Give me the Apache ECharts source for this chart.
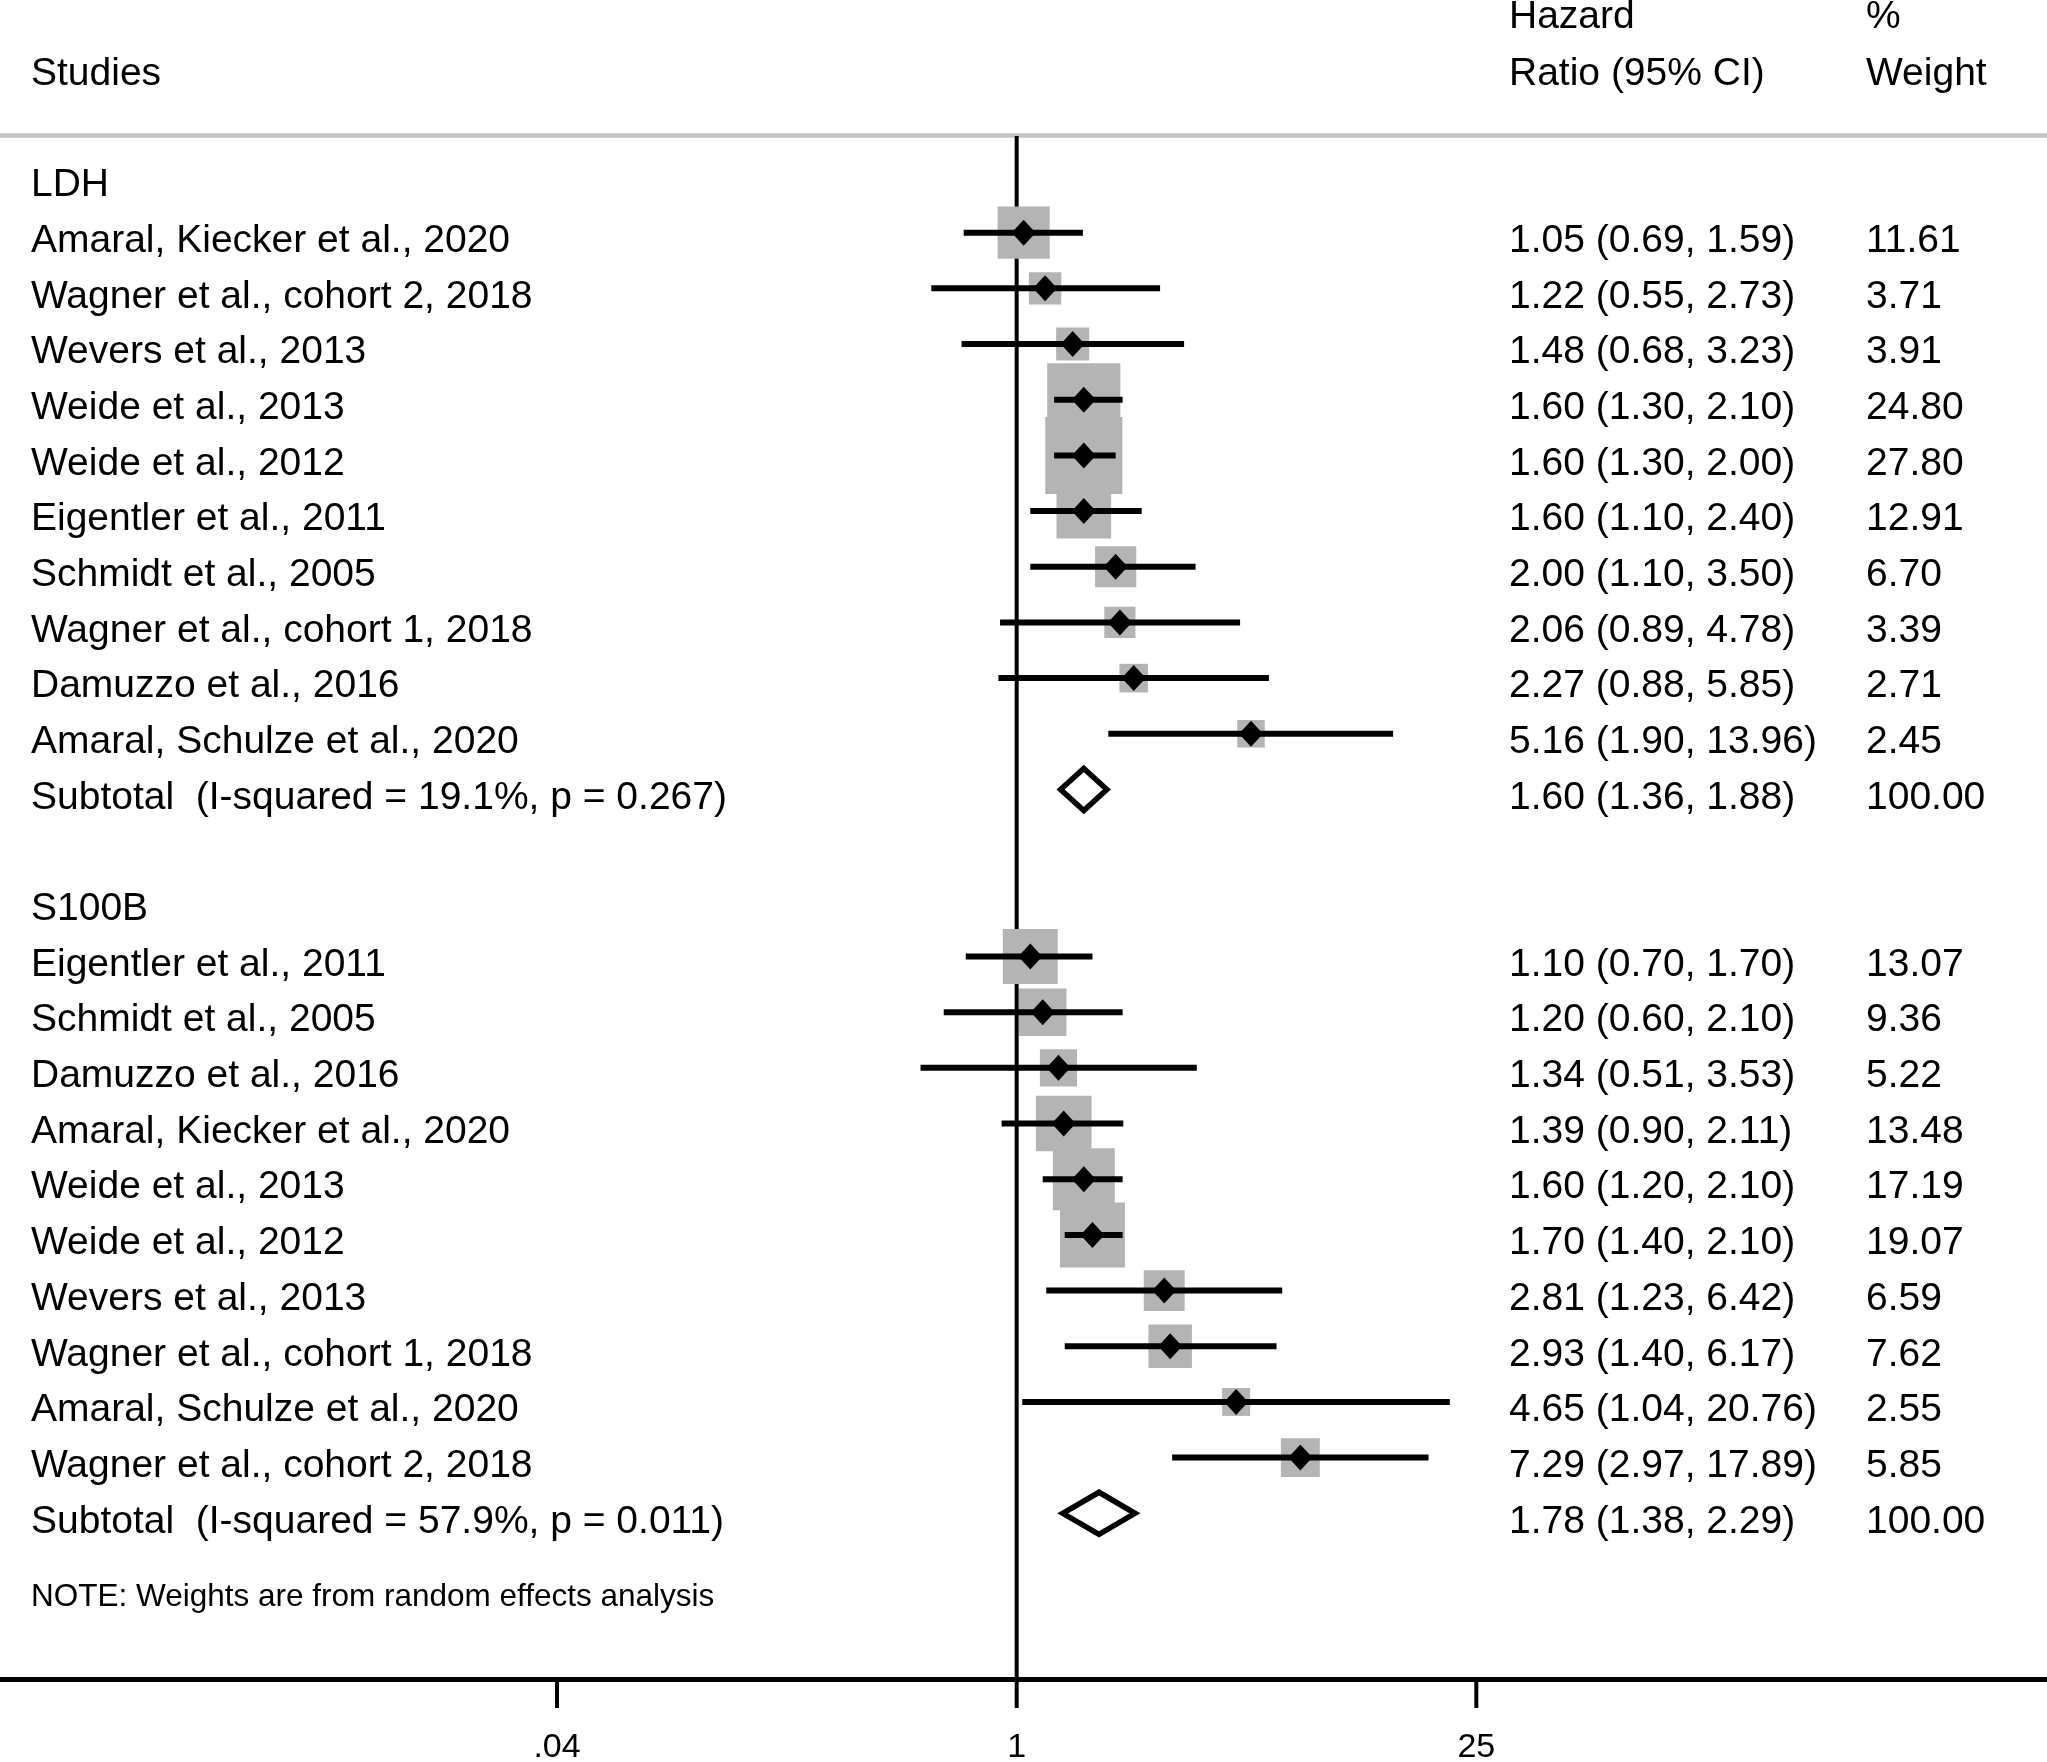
<!DOCTYPE html>
<html>
<head>
<meta charset="utf-8">
<title>Forest plot - LDH and S100B</title>
<script src="https://cdn.jsdelivr.net/npm/echarts@6/dist/echarts.min.js"></script>
<style>
  html, body { margin: 0; padding: 0; background: #fff; }
  #chart { width: 2047px; height: 1762px; }
</style>
</head>
<body>
<div id="chart"></div>
<script>
// ---------------------------------------------------------------
// data
// ---------------------------------------------------------------
const groupNames = ['LDH', 'S100B'];

const ldhStudies = [
    'Amaral, Kiecker et al., 2020',
    'Wagner et al., cohort 2, 2018',
    'Wevers et al., 2013',
    'Weide et al., 2013',
    'Weide et al., 2012',
    'Eigentler et al., 2011',
    'Schmidt et al., 2005',
    'Wagner et al., cohort 1, 2018',
    'Damuzzo et al., 2016',
    'Amaral, Schulze et al., 2020'
];
const ldhHR     = [1.05, 1.22, 1.48, 1.60, 1.60, 1.60, 2.00, 2.06, 2.27, 5.16];
const ldhLower  = [0.69, 0.55, 0.68, 1.30, 1.30, 1.10, 1.10, 0.89, 0.88, 1.90];
const ldhUpper  = [1.59, 2.73, 3.23, 2.10, 2.00, 2.40, 3.50, 4.78, 5.85, 13.96];
const ldhWeight = [11.61, 3.71, 3.91, 24.80, 27.80, 12.91, 6.70, 3.39, 2.71, 2.45];

const s100bStudies = [
    'Eigentler et al., 2011',
    'Schmidt et al., 2005',
    'Damuzzo et al., 2016',
    'Amaral, Kiecker et al., 2020',
    'Weide et al., 2013',
    'Weide et al., 2012',
    'Wevers et al., 2013',
    'Wagner et al., cohort 1, 2018',
    'Amaral, Schulze et al., 2020',
    'Wagner et al., cohort 2, 2018'
];
const s100bHR     = [1.10, 1.20, 1.34, 1.39, 1.60, 1.70, 2.81, 2.93, 4.65, 7.29];
const s100bLower  = [0.70, 0.60, 0.51, 0.90, 1.20, 1.40, 1.23, 1.40, 1.04, 2.97];
const s100bUpper  = [1.70, 2.10, 3.53, 2.11, 2.10, 2.10, 6.42, 6.17, 20.76, 17.89];
const s100bWeight = [13.07, 9.36, 5.22, 13.48, 17.19, 19.07, 6.59, 7.62, 2.55, 5.85];

const subtotalLabels = [
    'Subtotal  (I-squared = 19.1%, p = 0.267)',
    'Subtotal  (I-squared = 57.9%, p = 0.011)'
];
const subtotalHR     = [1.60, 1.78];
const subtotalLower  = [1.36, 1.38];
const subtotalUpper  = [1.88, 2.29];
const subtotalWeight = [100.00, 100.00];

const xTickValues = [0.04, 1, 25];
const xTickLabels = ['.04', '1', '25'];
const nullValue = 1;

const noteText = 'NOTE: Weights are from random effects analysis';

// ---------------------------------------------------------------
// layout
// ---------------------------------------------------------------
const FONT = '"Liberation Sans", Arial, Helvetica, sans-serif';
const BIG = '39px ' + FONT;
const TICK = '34px ' + FONT;
const SMALL = '31.5px ' + FONT;
const colX = { study: 31, hr: 1509, weight: 1866 };
const X_MIN = 0.000809, X_MAX = 1360;
const Y_MIN = -0.7364, Y_MAX = 26.976;
const ROWS_PER_GROUP = 13;

// rows: group header, 10 studies, subtotal, blank
const groups = [
    { studies: ldhStudies, hr: ldhHR, lo: ldhLower, hi: ldhUpper, w: ldhWeight },
    { studies: s100bStudies, hr: s100bHR, lo: s100bLower, hi: s100bUpper, w: s100bWeight }
];

const textRows = [];
const studyPoints = [];
const ciLines = [];
const subtotals = [];

groups.forEach(function (g, gi) {
    const base = gi * ROWS_PER_GROUP;
    textRows.push({ row: base, label: groupNames[gi], hr: '', w: '' });
    g.studies.forEach(function (name, k) {
        const row = base + 1 + k;
        textRows.push({
            row: row,
            label: name,
            hr: g.hr[k].toFixed(2) + ' (' + g.lo[k].toFixed(2) + ', ' + g.hi[k].toFixed(2) + ')',
            w: g.w[k].toFixed(2)
        });
        studyPoints.push([g.hr[k], row, g.w[k]]);
        ciLines.push([g.lo[k], g.hi[k], row]);
    });
    const srow = base + 1 + g.studies.length;
    textRows.push({
        row: srow,
        label: subtotalLabels[gi],
        hr: subtotalHR[gi].toFixed(2) + ' (' + subtotalLower[gi].toFixed(2) + ', ' + subtotalUpper[gi].toFixed(2) + ')',
        w: subtotalWeight[gi].toFixed(2)
    });
    subtotals.push([subtotalHR[gi], srow, subtotalLower[gi], subtotalUpper[gi]]);
});

// box side grows with sqrt(weight), as in metan plots
function boxSize(w) {
    return 6.6 + 13.36 * Math.sqrt(w);
}

function textEl(x, y, text, font, align) {
    return {
        type: 'text',
        x: x,
        y: y,
        style: { text: text, font: font, fill: '#000', align: align || 'left', verticalAlign: 'middle' }
    };
}

const chart = echarts.init(document.getElementById('chart'), null, { renderer: 'canvas' });

chart.setOption({
    animation: false,
    backgroundColor: '#fff',
    grid: { left: 0, right: 0, top: 136, bottom: 83, containLabel: false },
    xAxis: {
        type: 'log',
        logBase: 10,
        min: X_MIN,
        max: X_MAX,
        axisLine: { show: true, onZero: false, lineStyle: { color: '#000', width: 5 } },
        axisTick: { show: false },
        axisLabel: { show: false },
        splitLine: { show: false }
    },
    yAxis: {
        type: 'value',
        inverse: true,
        min: Y_MIN,
        max: Y_MAX,
        show: false,
        splitLine: { show: false }
    },
    graphic: [
        { type: 'line', shape: { x1: 0, y1: 135.5, x2: 2047, y2: 135.5 }, style: { stroke: '#c4c4c4', lineWidth: 4.5 } },
        { type: 'text', x: colX.study, y: 74, style: { text: 'Studies', font: BIG, fill: '#000', verticalAlign: 'middle' } },
        { type: 'text', x: colX.hr, y: 17, style: { text: 'Hazard', font: BIG, fill: '#000', verticalAlign: 'middle' } },
        { type: 'text', x: colX.hr, y: 74, style: { text: 'Ratio (95% CI)', font: BIG, fill: '#000', verticalAlign: 'middle' } },
        { type: 'text', x: colX.weight, y: 17, style: { text: '%', font: BIG, fill: '#000', verticalAlign: 'middle' } },
        { type: 'text', x: colX.weight, y: 74, style: { text: 'Weight', font: BIG, fill: '#000', verticalAlign: 'middle' } },
        { type: 'text', x: colX.study, y: 1597, style: { text: noteText, font: SMALL, fill: '#000', verticalAlign: 'middle' } }
    ],
    series: [
        {
            // null line at HR = 1
            type: 'custom',
            z: 1,
            silent: true,
            data: [[nullValue]],
            renderItem: function (params, api) {
                const top = api.coord([api.value(0), Y_MIN]);
                const bot = api.coord([api.value(0), Y_MAX]);
                return {
                    type: 'line',
                    shape: { x1: top[0], y1: top[1], x2: bot[0], y2: bot[1] },
                    style: { stroke: '#000', lineWidth: 4 }
                };
            }
        },
        {
            // weight boxes
            type: 'scatter',
            z: 2,
            silent: true,
            symbol: 'rect',
            symbolSize: function (val) { return boxSize(val[2]); },
            itemStyle: { color: '#b4b4b4', opacity: 1 },
            data: studyPoints
        },
        {
            // confidence intervals
            type: 'custom',
            z: 3,
            silent: true,
            encode: { x: [0, 1], y: 2 },
            data: ciLines,
            renderItem: function (params, api) {
                const a = api.coord([api.value(0), api.value(2)]);
                const b = api.coord([api.value(1), api.value(2)]);
                return {
                    type: 'line',
                    shape: { x1: a[0], y1: a[1], x2: b[0], y2: b[1] },
                    style: { stroke: '#000', lineWidth: 6, lineCap: 'butt' }
                };
            }
        },
        {
            // point estimates
            type: 'scatter',
            z: 4,
            silent: true,
            symbol: 'diamond',
            symbolSize: [24, 26],
            itemStyle: { color: '#000', opacity: 1 },
            data: studyPoints
        },
        {
            // pooled estimates (hollow diamonds)
            type: 'custom',
            z: 4,
            silent: true,
            encode: { x: [0, 2, 3], y: 1 },
            data: subtotals,
            renderItem: function (params, api) {
                const row = api.value(1);
                const c = api.coord([api.value(0), row]);
                const l = api.coord([api.value(2), row]);
                const r = api.coord([api.value(3), row]);
                const h = 21;
                return {
                    type: 'polygon',
                    shape: { points: [[l[0], l[1]], [c[0], c[1] - h], [r[0], r[1]], [c[0], c[1] + h]] },
                    style: { fill: '#fff', stroke: '#000', lineWidth: 5.5, lineJoin: 'miter' }
                };
            }
        },
        {
            // row texts: study, HR (95% CI), weight
            type: 'custom',
            z: 5,
            silent: true,
            data: textRows.map(function (t) { return [nullValue, t.row]; }),
            renderItem: function (params, api) {
                const t = textRows[params.dataIndex];
                const y = api.coord([nullValue, api.value(1)])[1] + 8.5;
                const children = [textEl(colX.study, y, t.label, BIG)];
                if (t.hr) children.push(textEl(colX.hr, y, t.hr, BIG));
                if (t.w) children.push(textEl(colX.weight, y, t.w, BIG));
                return { type: 'group', children: children };
            }
        },
        {
            // x axis ticks and labels
            type: 'custom',
            z: 5,
            silent: true,
            clip: false,
            data: xTickValues.map(function (v) { return [v, Y_MAX]; }),
            renderItem: function (params, api) {
                const p = api.coord([api.value(0), Y_MAX]);
                return {
                    type: 'group',
                    children: [
                        {
                            type: 'line',
                            shape: { x1: p[0], y1: p[1], x2: p[0], y2: p[1] + 29 },
                            style: { stroke: '#000', lineWidth: 4 }
                        },
                        textEl(p[0], p[1] + 69, xTickLabels[params.dataIndex], TICK, 'center')
                    ]
                };
            }
        }
    ]
});
</script>
</body>
</html>
